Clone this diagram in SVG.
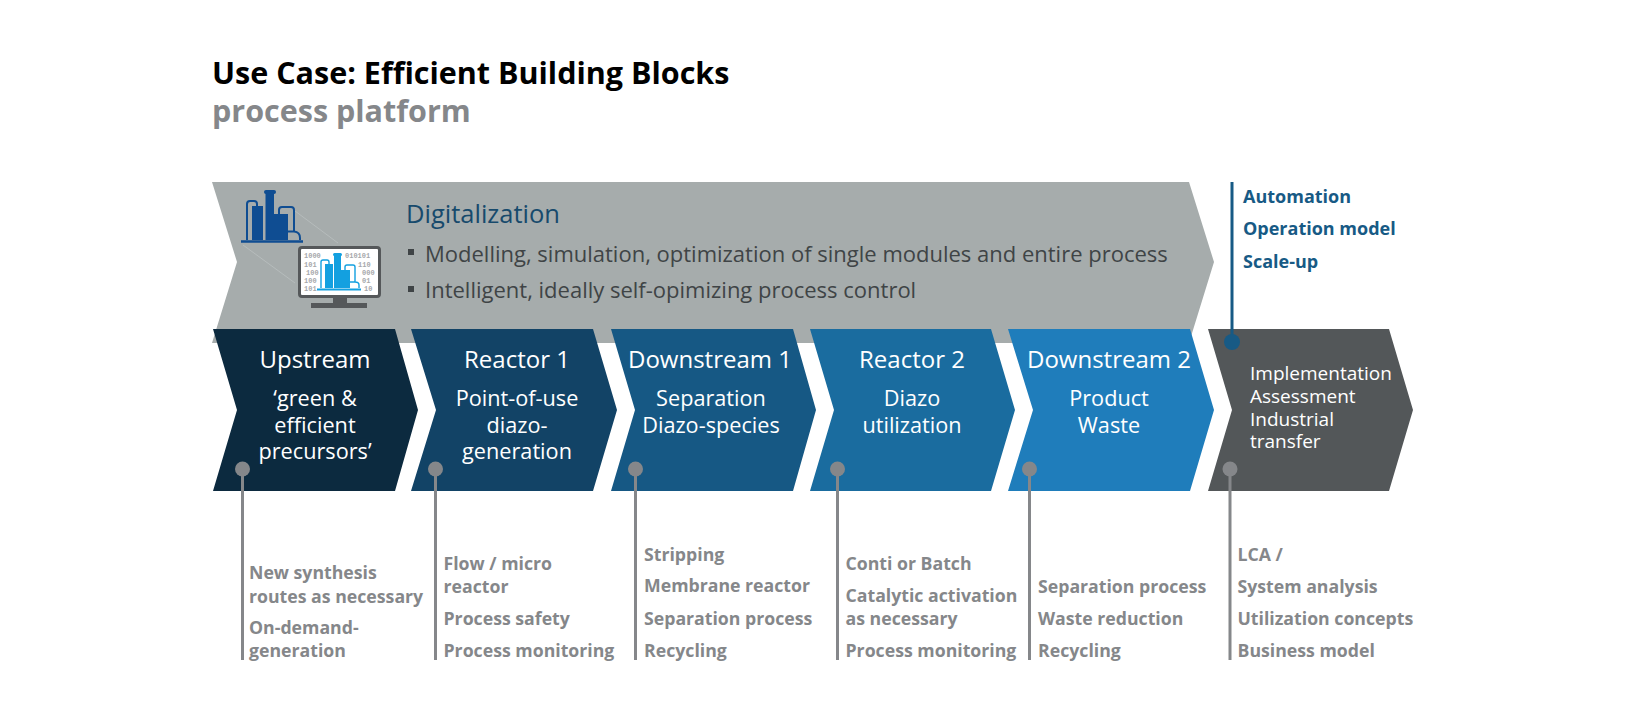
<svg xmlns="http://www.w3.org/2000/svg" width="1625" height="701" viewBox="0 0 1625 701">
<style>
text{font-family:"Open Sans","Noto Sans","Liberation Sans",sans-serif}
.title{font-size:30.500px;font-weight:700}
.head{font-size:24px;fill:#fff;text-anchor:middle}
.sub{font-size:21.700px;fill:#fff;text-anchor:middle}
.impl{font-size:19px;fill:#fff}
.dig{font-size:22px;fill:#3f4446}
.note{font-size:17.700px;font-weight:700;fill:#85878a}
.auto{font-size:18px;font-weight:700;fill:#175a85}
.stem{stroke:#85878a;stroke-width:3;fill:none}
.dot{fill:#85878a}
.mono{font-family:"Liberation Mono",monospace;font-size:7px;font-weight:700;fill:#a6a8ab}
</style>
<rect width="1625" height="701" fill="#fff"/>
<text class="title" x="212" y="84" fill="#000">Use Case: Efficient Building Blocks</text>
<text class="title" x="212" y="122" fill="#85878a">process platform</text>

<g id="digitalization">
<path d="M212 182H1189L1214 262L1189 343H212L237 262Z" fill="#a6acac"/>
<path d="M295 211L338 243M243 245L295 283" stroke="#b6bcbc" stroke-width="1" fill="none"/>
<g id="plant-icon">
<path d="M241 241.500H303" stroke="#0f4d92" stroke-width="2.500" fill="none"/>
<path d="M252 240V206H263V240ZM265.500 240V193H274V240ZM274 240V214H288V240Z" fill="#0f4d92"/>
<rect x="264" y="190" width="12" height="4" rx="2" fill="#0f4d92"/>
<path d="M247 240V204Q247 201 250 201H254Q257 201 257 204V207M279 214V210Q279 207 282 207H291Q294 207 294 210V232M288 231.500H294Q300 232 300 238V240" stroke="#0f4d92" stroke-width="2" fill="none"/>
</g>
<g id="monitor-icon">
<rect x="299.500" y="247.500" width="80" height="49" rx="2.500" fill="#fff" stroke="#55585a" stroke-width="3"/>
<rect x="333" y="298" width="14" height="6" fill="#55585a"/>
<rect x="311" y="303" width="56" height="5" fill="#55585a"/>
<text class="mono" x="304" y="258">1000</text><text class="mono" x="304" y="267">101</text><text class="mono" x="306" y="275">100</text><text class="mono" x="304" y="283">100</text><text class="mono" x="304" y="291">101</text>
<text class="mono" x="345" y="258">010101</text><text class="mono" x="358" y="267">110</text><text class="mono" x="362" y="275">000</text><text class="mono" x="362" y="283">01</text><text class="mono" x="364" y="291">10</text>
<path d="M317 289.500H361" stroke="#13a0e0" stroke-width="2" fill="none"/>
<path d="M325 288V264H333V288ZM334 288V254H341V288ZM341 288V270H350V288Z" fill="#13a0e0"/>
<rect x="333" y="253" width="9" height="3" rx="1.500" fill="#13a0e0"/>
<path d="M321 288V262Q321 260 323 260H327Q329 260 329 262V264M345 270V267Q345 265 347 265H353Q355 265 355 267V282M350 282H355Q359 282 359 285V288" stroke="#13a0e0" stroke-width="1.400" fill="none"/>
</g>
<text x="406" y="223" font-size="25.500" fill="#174a6c">Digitalization</text>
<rect x="408" y="249" width="6" height="6" fill="#3f4446"/>
<text class="dig" x="425" y="262">Modelling, simulation, optimization of single modules and entire process</text>
<rect x="408" y="286" width="6" height="6" fill="#3f4446"/>
<text class="dig" x="425" y="298">Intelligent, ideally self-opimizing process control</text>
</g>

<g id="upstream">
<path d="M213 329H395L418 410L395 491H213L237 410Z" fill="#0c2a3f"/>
<text class="head" x="315" y="368">Upstream</text>
<text class="sub" x="315" y="406">‘green &amp;</text><text class="sub" x="315" y="433">efficient</text><text class="sub" x="315" y="459">precursors’</text>
</g>
<g id="reactor-1">
<path d="M411 329H593L617 410L593 491H411L436 410Z" fill="#124366"/>
<text class="head" x="517" y="368">Reactor 1</text>
<text class="sub" x="517" y="406">Point-of-use</text><text class="sub" x="517" y="433">diazo-</text><text class="sub" x="517" y="459">generation</text>
</g>
<g id="downstream-1">
<path d="M611 329H793L816 410L793 491H611L635 410Z" fill="#165884"/>
<text class="head" x="710" y="368">Downstream 1</text>
<text class="sub" x="711" y="406">Separation</text><text class="sub" x="711" y="433">Diazo-species</text>
</g>
<g id="reactor-2">
<path d="M810 329H991L1015 410L991 491H810L834 410Z" fill="#1a6c9f"/>
<text class="head" x="912" y="368">Reactor 2</text>
<text class="sub" x="912" y="406">Diazo</text><text class="sub" x="912" y="433">utilization</text>
</g>
<g id="downstream-2">
<path d="M1008 329H1190L1214 410L1190 491H1008L1033 410Z" fill="#1f7dbb"/>
<text class="head" x="1109" y="368">Downstream 2</text>
<text class="sub" x="1109" y="406">Product</text><text class="sub" x="1109" y="433">Waste</text>
</g>
<g id="implementation">
<path d="M1208 329H1389L1413 410L1389 491H1208L1232 410Z" fill="#535759"/>
<text class="impl" x="1250" y="380">Implementation</text><text class="impl" x="1250" y="403">Assessment</text><text class="impl" x="1250" y="426">Industrial</text><text class="impl" x="1250" y="448">transfer</text>
</g>

<g id="connectors">
<path d="M1232 182V342" stroke="#175a85" stroke-width="3" fill="none"/>
<circle cx="1232" cy="342" r="8" fill="#175a85"/>
<path class="stem" d="M242.500 469V660M435.500 469V660M635.500 469V660M837.500 469V660M1029.500 469V660M1230 469V660"/>
<circle class="dot" cx="242.500" cy="469" r="7.500"/><circle class="dot" cx="435.500" cy="469" r="7.500"/><circle class="dot" cx="635.500" cy="469" r="7.500"/><circle class="dot" cx="837.500" cy="469" r="7.500"/><circle class="dot" cx="1029.500" cy="469" r="7.500"/><circle class="dot" cx="1230" cy="469" r="7.500"/>
</g>

<g id="automation-notes">
<text class="auto" x="1243" y="203">Automation</text><text class="auto" x="1243" y="235">Operation model</text><text class="auto" x="1243" y="268">Scale-up</text>
</g>
<g id="upstream-notes">
<text class="note" x="249" y="579">New synthesis</text><text class="note" x="249" y="603">routes as necessary</text><text class="note" x="249" y="634">On-demand-</text><text class="note" x="249" y="657">generation</text>
</g>
<g id="reactor-1-notes">
<text class="note" x="443.500" y="570">Flow / micro</text><text class="note" x="443.500" y="593">reactor</text><text class="note" x="443.500" y="625">Process safety</text><text class="note" x="443.500" y="657">Process monitoring</text>
</g>
<g id="downstream-1-notes">
<text class="note" x="644" y="561">Stripping</text><text class="note" x="644" y="592">Membrane reactor</text><text class="note" x="644" y="625">Separation process</text><text class="note" x="644" y="657">Recycling</text>
</g>
<g id="reactor-2-notes">
<text class="note" x="845.500" y="570">Conti or Batch</text><text class="note" x="845.500" y="602">Catalytic activation</text><text class="note" x="845.500" y="625">as necessary</text><text class="note" x="845.500" y="657">Process monitoring</text>
</g>
<g id="downstream-2-notes">
<text class="note" x="1038" y="593">Separation process</text><text class="note" x="1038" y="625">Waste reduction</text><text class="note" x="1038" y="657">Recycling</text>
</g>
<g id="implementation-notes">
<text class="note" x="1237.500" y="561">LCA /</text><text class="note" x="1237.500" y="593">System analysis</text><text class="note" x="1237.500" y="625">Utilization concepts</text><text class="note" x="1237.500" y="657">Business model</text>
</g>
</svg>
